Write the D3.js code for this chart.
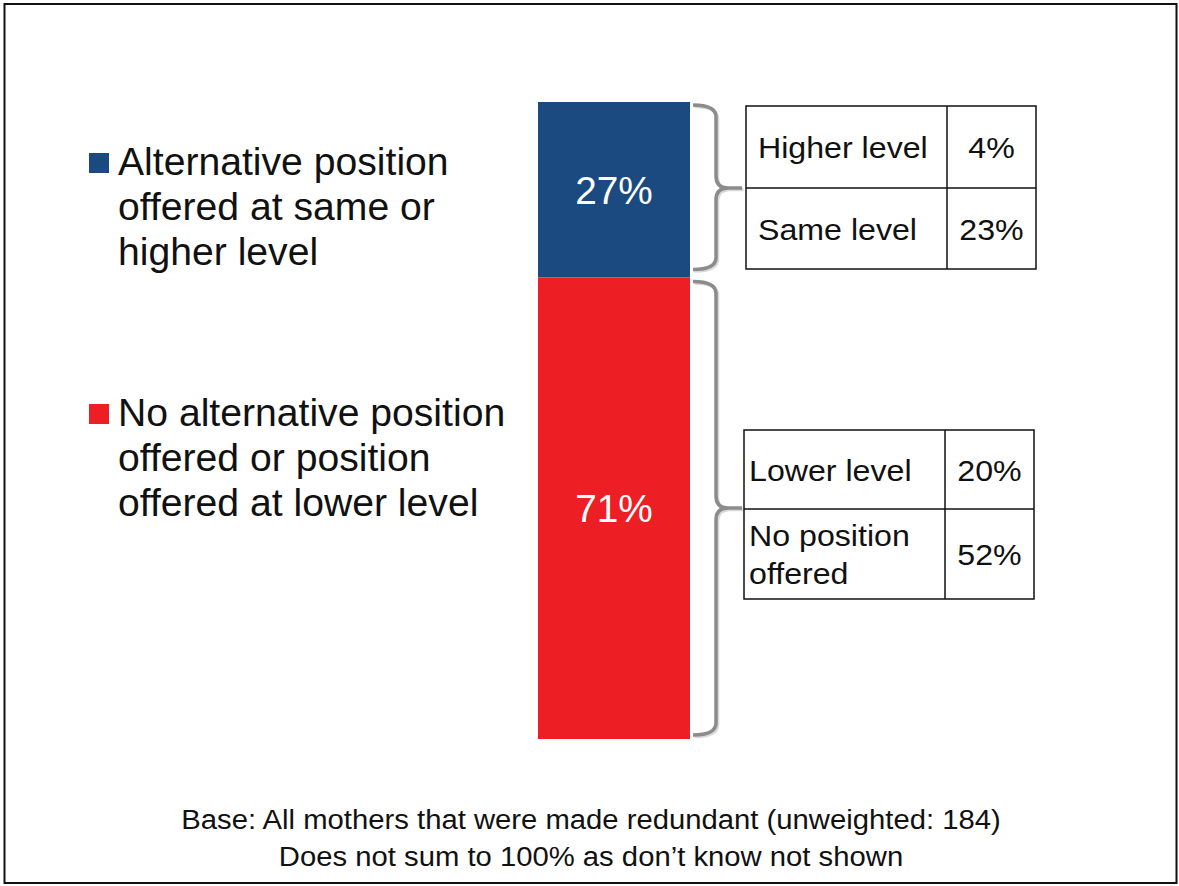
<!DOCTYPE html>
<html>
<head>
<meta charset="utf-8">
<script src="https://cdn.jsdelivr.net/npm/d3@7"></script>
<style>
  html, body { margin: 0; padding: 0; background: #fff; }
  svg { display: block; font-family: "Liberation Sans", Arial, sans-serif; }
</style>
</head>
<body>
<svg id="chart" width="1179" height="886"></svg>
<script>
// Headline split of outcomes for mothers made redundant
const segments = ["Alternative position offered at same or higher level",
                  "No alternative position offered or position offered at lower level"];
const segmentValues = [27, 71];
const segmentColors = ["#1a4a80", "#ed1f24"];
const legendLines = [
  ["Alternative position", "offered at same or", "higher level"],
  ["No alternative position", "offered or position", "offered at lower level"]
];

// Breakdown tables beside each segment
const detailLabels = [["Higher level", "Same level"], ["Lower level", "No position offered"]];
const detailValues = [[4, 23], [20, 52]];

const footnotes = [
  "Base: All mothers that were made redundant (unweighted: 184)",
  "Does not sum to 100% as don\u2019t know not shown"
];

const svg = d3.select("#chart");

// Text helper with a slight horizontal stretch
function label(g, x, y, str, size, sx, anchor) {
  return g.append("text")
    .attr("transform", `translate(${x},${y}) scale(${sx},1)`)
    .attr("text-anchor", anchor || "start")
    .attr("font-size", size)
    .attr("fill", "#111")
    .text(str);
}

// Outer frame
svg.append("rect")
  .attr("x", 4.5).attr("y", 4).attr("width", 1172).attr("height", 879)
  .attr("fill", "none").attr("stroke", "#111").attr("stroke-width", 2);

// Stacked bar
const total = d3.sum(segmentValues);
const y = d3.scaleLinear().domain([0, total]).range([102, 739]);
const barX = 538, barW = 152;

let acc = 0;
const stacked = segmentValues.map((v, i) => {
  const s = { i, v, y0: acc, y1: acc + v };
  acc += v;
  return s;
});

svg.selectAll("rect.seg").data(stacked).enter().append("rect")
  .attr("class", "seg")
  .attr("x", barX).attr("width", barW)
  .attr("y", d => y(d.y0))
  .attr("height", d => y(d.y1) - y(d.y0))
  .attr("fill", d => segmentColors[d.i]);

stacked.forEach(d => {
  label(svg, barX + barW / 2, (y(d.y0) + y(d.y1)) / 2 + 14, d.v + "%", 38, 1.02, "middle")
    .attr("fill", "#fff");
});

// Legend
const legendBase = [175, 426];
legendLines.forEach((lines, i) => {
  const g = svg.append("g");
  g.append("rect")
    .attr("x", 89).attr("y", legendBase[i] - 22).attr("width", 20).attr("height", 20)
    .attr("fill", segmentColors[i]);
  lines.forEach((t, j) => {
    label(g, 118, legendBase[i] + j * 45, t, 38, 1.03);
  });
});

// Curly braces linking segments to tables
function bracePath(y0, y1, ym, dx) {
  const x0 = 693 + dx, xv = 716 + dx, xt = 742 + dx, r = 12;
  return `M${x0},${y0} Q${xv},${y0} ${xv},${y0 + r} V${ym - r} Q${xv},${ym} ${xv + r},${ym} H${xt}` +
         ` M${xv + r},${ym} Q${xv},${ym} ${xv},${ym + r} V${y1 - r} Q${xv},${y1} ${x0},${y1}`;
}
const braceSpec = [
  { y0: y(0) + 3, y1: y(27) - 8, ym: 188 },
  { y0: y(27) + 4, y1: y(total) - 4, ym: 508 }
];
braceSpec.forEach(b => {
  svg.append("path").attr("d", bracePath(b.y0 + 1.5, b.y1 + 1.5, b.ym + 1.5, 1.5))
    .attr("fill", "none").attr("stroke", "#000").attr("stroke-opacity", 0.15).attr("stroke-width", 3.5);
  svg.append("path").attr("d", bracePath(b.y0, b.y1, b.ym, 0))
    .attr("fill", "none").attr("stroke", "#8c8c8c").attr("stroke-width", 3.5);
});

// Breakdown tables
const tables = [
  { x: 746, y: 106, w: 290, colX: 947, rows: [82, 81], pad: 12 },
  { x: 744, y: 430, w: 290, colX: 945, rows: [79, 90], pad: 5 }
];
tables.forEach((t, ti) => {
  const g = svg.append("g");
  const h = d3.sum(t.rows);
  g.append("rect").attr("x", t.x).attr("y", t.y).attr("width", t.w).attr("height", h)
    .attr("fill", "#fff").attr("stroke", "#111").attr("stroke-width", 1.5);
  g.append("line").attr("x1", t.colX).attr("x2", t.colX).attr("y1", t.y).attr("y2", t.y + h)
    .attr("stroke", "#111").attr("stroke-width", 1.5);
  g.append("line").attr("x1", t.x).attr("x2", t.x + t.w)
    .attr("y1", t.y + t.rows[0]).attr("y2", t.y + t.rows[0])
    .attr("stroke", "#111").attr("stroke-width", 1.5);
  let ry = t.y;
  detailLabels[ti].forEach((lab, ri) => {
    const cy = ry + t.rows[ri] / 2;
    const words = lab === "No position offered" ? ["No position", "offered"] : [lab];
    words.forEach((w, k) => {
      label(g, t.x + t.pad, cy + 11 + (k - (words.length - 1) / 2) * 38, w, 29.5, 1.09);
    });
    label(g, (t.colX + t.x + t.w) / 2, cy + 11, detailValues[ti][ri] + "%", 29.5, 1.09, "middle");
    ry += t.rows[ri];
  });
});

// Footnotes
footnotes.forEach((f, i) => {
  label(svg, 591, 829 + i * 37, f, 28, 1.045, "middle");
});
</script>
</body>
</html>
